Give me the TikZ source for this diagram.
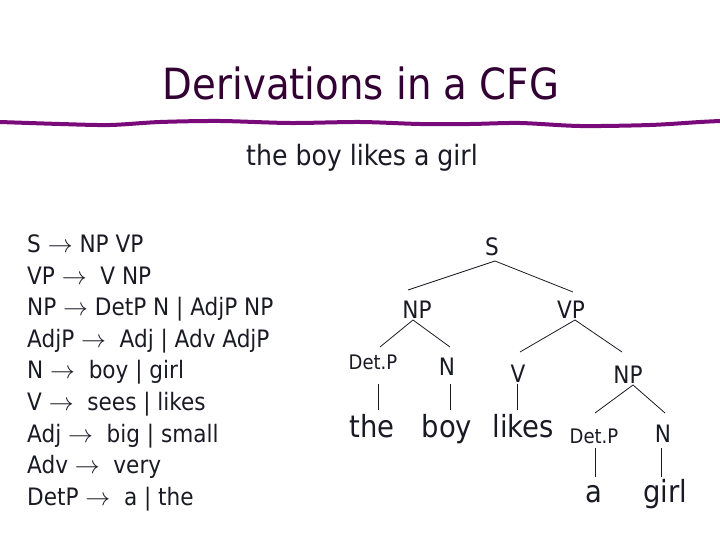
\documentclass[tikz,border=0pt]{standalone}
\usepackage{fontspec}
\setmainfont{DejaVu Sans Condensed}
\usetikzlibrary{calc}
\definecolor{titlecol}{HTML}{330033}
\definecolor{barcol}{HTML}{7A0A7A}
\definecolor{txt}{HTML}{1A1A24}
\tikzset{
  lab/.style={anchor=base, inner sep=0pt, text=txt, font=\fontsize{24}{24}\selectfont},
  smalllab/.style={anchor=base, inner sep=0pt, text=txt, font=\fontsize{20}{20}\selectfont},
  word/.style={anchor=base, inner sep=0pt, text=txt, font=\fontsize{30.5}{30.5}\selectfont},
  rule/.style={anchor=base west, inner sep=0pt, text=txt, font=\fontsize{24}{24}\selectfont},
  edge/.style={draw=txt, line width=0.8pt}
}
\begin{document}
\begin{tikzpicture}[x=1pt, y=-1pt]
\useasboundingbox (0,0) rectangle (720,540);
% title
\node[anchor=base, inner sep=0pt, text=titlecol, font=\fontsize{43}{43}\selectfont] (title) at (361,100) {Derivations in a CFG};
\draw[barcol, line width=4pt, line cap=round] plot[smooth] coordinates {(0,122) (60,124) (110,125) (160,122) (220,121) (290,123) (360,122) (420,124) (470,124) (520,123) (580,126) (650,125) (700,122) (720,121)};
\node[anchor=base, inner sep=0pt, text=txt, font=\fontsize{28}{28}\selectfont] (sent) at (362,166) {the boy likes a girl};
% grammar
\node[rule] (r1) at (27,252.5) {S $\rightarrow$ NP VP};
\node[rule] (r2) at (27,284.1) {VP $\rightarrow$\ \ V NP};
\node[rule] (r3) at (27,315.7) {NP $\rightarrow$ DetP N | AdjP NP};
\node[rule] (r4) at (27,347.3) {AdjP $\rightarrow$\ \ Adj | Adv AdjP};
\node[rule] (r5) at (27,378.9) {N $\rightarrow$\ \ boy | girl};
\node[rule] (r6) at (27,410.5) {V $\rightarrow$\ \ sees | likes};
\node[rule] (r7) at (27,442.1) {Adj $\rightarrow$\ \ big | small};
\node[rule] (r8) at (27,473.7) {Adv $\rightarrow$\ \ very};
\node[rule] (r9) at (27,505.3) {DetP $\rightarrow$\ \ a | the};
% tree
\node[lab] (S) at (492,255) {S};
\node[lab] (NP) at (417,318) {NP};
\node[lab] (VP) at (571,318) {VP};
\node[smalllab] (DetP) at (373,369) {Det.P};
\node[lab] (N) at (447,375) {N};
\node[lab] (V) at (518,382) {V};
\node[lab] (NPb) at (628,383) {NP};
\node[word] (the) at (372,437) {the};
\node[word] (boy) at (447,437) {boy};
\node[word] (likes) at (523,437) {likes};
\node[smalllab] (DetPb) at (594,443) {Det.P};
\node[lab] (Nb) at (663,442) {N};
\node[word] (a) at (594,502) {a};
\node[word] (girl) at (665,502) {girl};
\draw[edge] ([shift={(3,6)}]S.base) -- ([shift={(-9,-28)}]NP.base);
\draw[edge] ([shift={(3,6)}]S.base) -- ([shift={(2,-26)}]VP.base);
\draw[edge] ([shift={(-4,2)}]NP.base) -- ([shift={(7,-22)}]DetP.base);
\draw[edge] ([shift={(-4,2)}]NP.base) -- ([shift={(3,-28)}]N.base);
\draw[edge] ([shift={(4,2)}]VP.base) -- ([shift={(2,-30)}]V.base);
\draw[edge] ([shift={(4,2)}]VP.base) -- ([shift={(-6,-31)}]NPb.base);
\draw[edge] ([shift={(5,15)}]DetP.base) -- ([shift={(6,-27)}]the.base);
\draw[edge] ([shift={(3,9)}]N.base) -- ([shift={(3,-27)}]boy.base);
\draw[edge] ([shift={(-1,2)}]V.base) -- ([shift={(-6,-27)}]likes.base);
\draw[edge] ([shift={(5,2)}]NPb.base) -- ([shift={(1,-30)}]DetPb.base);
\draw[edge] ([shift={(5,2)}]NPb.base) -- ([shift={(2,-29)}]Nb.base);
\draw[edge] ([shift={(1,5)}]DetPb.base) -- ([shift={(1,-25)}]a.base);
\draw[edge] ([shift={(-2,6)}]Nb.base) -- ([shift={(-4,-25)}]girl.base);
\end{tikzpicture}
\end{document}
